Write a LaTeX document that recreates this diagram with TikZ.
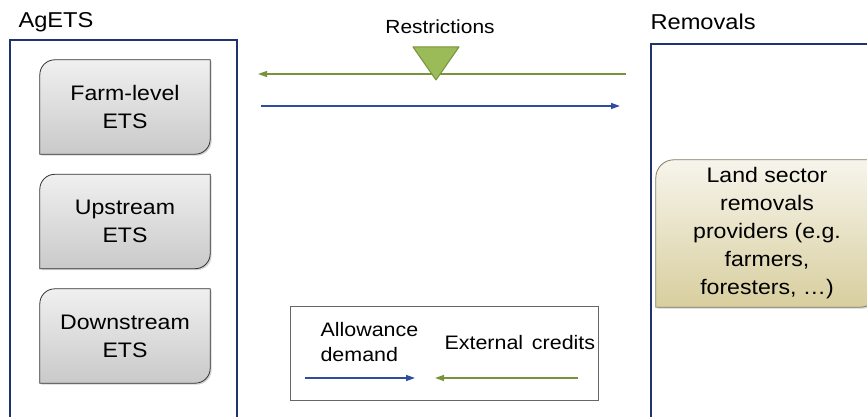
\documentclass[tikz,border=0pt]{standalone}
\usepackage{fontspec}
\setmainfont{Liberation Sans}[FakeStretch=1.1]
\usetikzlibrary{arrows.meta,shadows}

\definecolor{navy}{HTML}{1F3370}
\definecolor{flowblue}{HTML}{2E4D9F}
\definecolor{flowgreen}{HTML}{77933C}
\definecolor{trifill}{HTML}{9BBB59}
\definecolor{khakitop}{HTML}{F7F5EC}
\definecolor{khakibot}{HTML}{D8CE9E}

% rounded top-left and bottom-right corners
\newcommand{\diagshape}[3]{%
  \path[#3] (#1.south west) -- ([yshift=-#2]#1.north west)
    arc[start angle=180,end angle=90,radius=#2] -- (#1.north east)
    -- ([yshift=#2]#1.south east)
    arc[start angle=0,end angle=-90,radius=#2] -- cycle;}

\tikzset{
  etsbox/.style={minimum width=170pt, minimum height=94pt, align=center,
    font=\fontsize{21}{28}\selectfont, inner sep=0pt},
  etsfill/.style={draw=black!80, line width=0.8pt, top color=gray!12,
    bottom color=gray!42, drop shadow={shadow xshift=1.5pt, shadow yshift=-1.5pt, opacity=0.35}},
  landfill/.style={draw=khakibot!60!black, line width=0.8pt, top color=khakitop,
    bottom color=khakibot, drop shadow={shadow xshift=1.5pt, shadow yshift=-1.5pt, opacity=0.35}},
  frame/.style={draw=navy, line width=2.4pt},
  flow/.style={line width=1.3pt, -{Triangle[length=9pt,width=6pt]}},
  title/.style={font=\fontsize{21.5}{26}\selectfont},
}

\begin{document}
\begin{tikzpicture}[x=1pt,y=1pt]
  \useasboundingbox (0,0) rectangle (867,417);
  \clip (0,0) rectangle (867,417);

  % frames
  \draw[frame] (10,-10) rectangle (237,377);
  \draw[frame] (651,-10) rectangle (890,373);
  \node[title, anchor=west] (agets) at (15,395) {AgETS};
  \node[title, anchor=west] (removals) at (647,395) {Removals};

  % ETS boxes
  \foreach \name/\y/\txt in {farm/310/{Farm-level\\ETS}, up/195.5/{Upstream\\ETS}, down/81/{Downstream\\ETS}}{
    \node[etsbox] (\name) at (125,\y) {};
    \diagshape{\name}{15pt}{etsfill}
    \node[etsbox] at (\name) {\txt};
  }

  % removals provider
  \node[etsbox, minimum width=222pt, minimum height=147pt] (land) at (767,183.5) {};
  \diagshape{land}{18pt}{landfill}
  \node[etsbox] at (land) {Land sector\\removals\\providers (e.g.\\farmers,\\foresters, …)};

  % flows
  \coordinate (gstart) at (626,343);
  \coordinate (gend) at (258,343);
  \coordinate (bstart) at (261,311);
  \coordinate (bend) at (620,311);
  \draw[flow, flowgreen] (gstart) -- (gend);
  \draw[flow, flowblue] (bstart) -- (bend);

  % restriction
  \draw[fill=trifill, draw=flowgreen, line width=1pt, line join=round]
    (413,370) -- (459,370) -- (436,337) -- cycle;
  \node[font=\fontsize{19}{22}\selectfont] (restr) at (440,390) {Restrictions};

  % legend
  \node[draw=gray!80!black, line width=0.8pt, minimum width=308pt, minimum height=94pt] (legend) at (444,64) {};
  \node[anchor=west, align=left, font=\fontsize{19.5}{25}\selectfont] (allow) at (317,74.5) {Allowance\\demand};
  \node[anchor=west, font=\fontsize{19.5}{22}\selectfont] (ext) at (441,74) {External\hskip0.45em credits};
  \coordinate (la) at (305,39);
  \coordinate (lb) at (415,39);
  \coordinate (lc) at (578,39);
  \coordinate (ld) at (435,39);
  \draw[flow, flowblue] (la) -- (lb);
  \draw[flow, flowgreen] (lc) -- (ld);
\end{tikzpicture}
\end{document}
